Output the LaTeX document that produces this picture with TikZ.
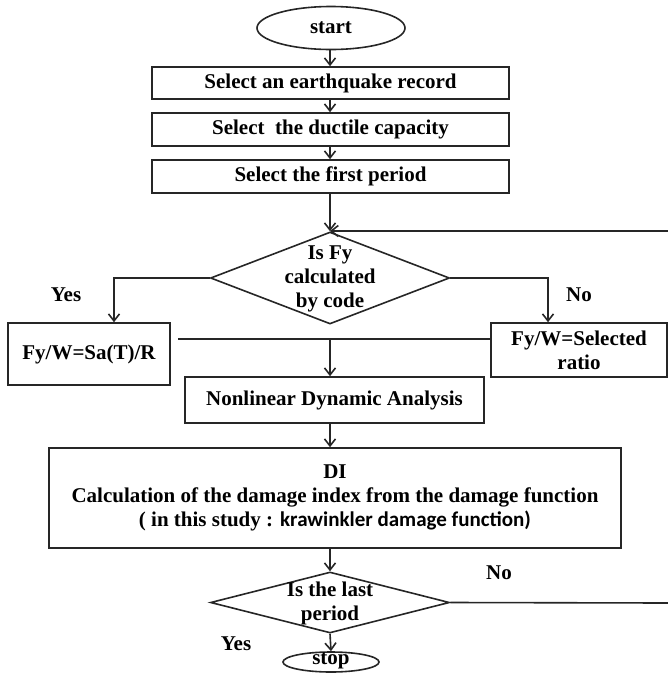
\documentclass[tikz,border=0pt]{standalone}
\usepackage{fontspec}
\setmainfont{Liberation Serif}
\newfontfamily\calib{Carlito}
\usetikzlibrary{shapes.geometric,arrows.meta}
\begin{document}
\begin{tikzpicture}[x=1pt,y=-1pt,
  every node/.style={font=\fontsize{21}{24}\selectfont\bfseries},
  line/.style={line width=1.6pt, draw=black!85},
  arr/.style={line, -{Straight Barb[length=7pt,width=11pt]}},
  procbox/.style={draw=black!85, line width=1.6pt, rectangle, inner sep=0pt, align=center},
  term/.style={draw=black!85, line width=1.6pt, ellipse, inner sep=0pt},
  decision/.style={draw=black!85, line width=1.6pt, diamond, inner sep=0pt},
  txt/.style={inner sep=0pt, align=center}]
\useasboundingbox (0,0) rectangle (668,673);
% terminals
\node[term, minimum width=148pt, minimum height=43pt] (start) at (331,28) {start};
\node[procbox, minimum width=357pt, minimum height=32pt] (b1) at (330.5,83) {Select an earthquake record};
\node[procbox, minimum width=357pt, minimum height=33pt] (b2) at (330.5,129.5) {Select\ \ the ductile capacity};
\node[procbox, minimum width=357pt, minimum height=33pt] (b3) at (330.5,176.5) {Select the first period};
% decision 1
\node[decision, minimum width=239pt, minimum height=92pt] (d1) at (330,278) {};
\node[txt] (d1t) at (330,279) {Is Fy\\calculated\\by code};
% branches
\node[procbox, minimum width=162pt, minimum height=62pt] (L) at (89,354) {Fy/W=Sa(T)/R};
\node[procbox, minimum width=176pt, minimum height=54pt] (R) at (579,350) {Fy/W=Selected\\ratio};
\node[txt] (yes1) at (66,295) {Yes};
\node[txt] (no1) at (579,295) {No};
% nonlinear
\node[procbox, minimum width=299pt, minimum height=46pt] (N) at (334.5,400) {Nonlinear Dynamic Analysis};
% DI
\node[procbox, minimum width=572pt, minimum height=100pt] (DI) at (335,498)
  {DI\\Calculation of the damage index from the damage function\\( in this study : {\calib krawinkler damage function)}};
% decision 2
\node[decision, minimum width=239pt, minimum height=61pt] (d2) at (330,602.5) {};
\node[txt] (d2t) at (330,603) {Is the last\\period};
\node[term, minimum width=96pt, minimum height=20pt] (stop) at (331,662) {};
\node[txt] (stopt) at (331,661) {stop};
\node[txt] (no2) at (499,573) {No};
\node[txt] (yes2) at (236,644) {Yes};
% coordinates
\coordinate (mL) at (178,339);
\coordinate (mC) at (330,339);
\coordinate (c1) at (668,231);
\coordinate (c2) at (668,603);
% connectors
\draw[arr] (start.south -| d1.north) -- (b1.north -| d1.north);
\draw[arr] (b1.south -| d1.north) -- (b2.north -| d1.north);
\draw[arr] (b2.south -| d1.north) -- (b3.north -| d1.north);
\draw[arr] (b3.south -| d1.north) -- (d1.north);
\draw[arr] (c1) -- (c1 -| d1.north);
\draw[arr] (d1.west) -| ([xshift=25pt]L.north);
\draw[arr] (d1.east) -| ([xshift=-31pt]R.north);
\draw[line] (mL) -- (mL -| R.west);
\draw[arr] (mC) -- (mC |- N.north);
\draw[arr] (N.south -| mC) -- (DI.north -| mC);
\draw[arr] (DI.south -| mC) -- (d2.north);
\draw[arr] (d2.south) -- (stop.north);
\draw[line] (d2.east) -- (c2);
\end{tikzpicture}
\end{document}
